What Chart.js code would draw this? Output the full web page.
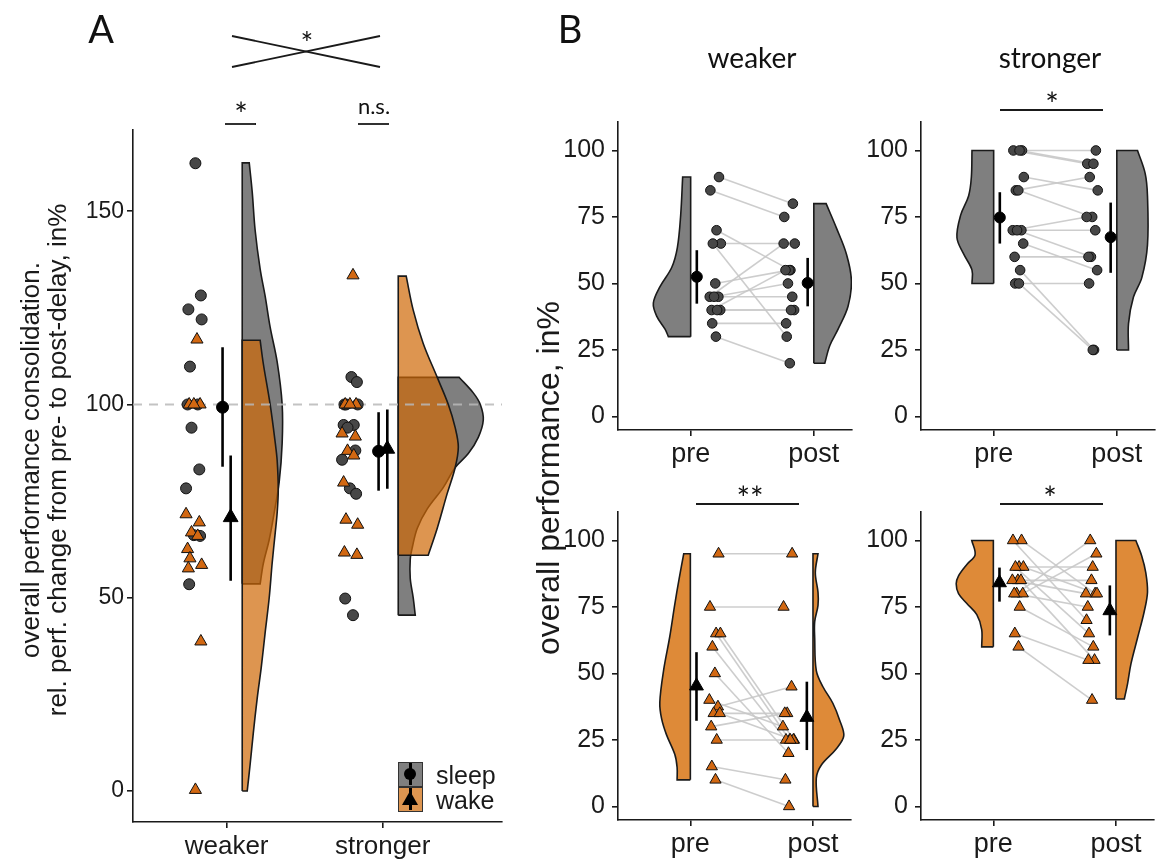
<!DOCTYPE html>
<html>
<head>
<meta charset="utf-8">
<script src="https://cdn.jsdelivr.net/npm/chart.js@4.4.1/dist/chart.umd.min.js"></script>
<style>
  html, body { margin: 0; padding: 0; background: #fff; }
  #page { position: relative; width: 1165px; height: 860px; overflow: hidden; font-family: "Liberation Sans", Arial, sans-serif; color: #1a1a1a; }
  canvas { position: absolute; }
  .note { position: absolute; transform: translate(-50%, -50%); white-space: nowrap; font-family: Lato, "Open Sans", sans-serif; color: #111; line-height: 1; }
  .key { position: absolute; width: 25px; height: 25px; box-sizing: border-box; border: 1.5px solid #333; }
  .key .bar { position: absolute; left: 10px; top: 0; width: 2.5px; height: 22px; background: #000; }
  .key .dot { position: absolute; left: 5px; top: 5px; width: 12px; height: 12px; border-radius: 50%; background: #000; }
  .key .tri { position: absolute; left: 3px; top: 3px; width: 0; height: 0; border-left: 8px solid transparent; border-right: 8px solid transparent; border-bottom: 14px solid #000; }
  .legtxt { position: absolute; font-size: 25px; transform: translateY(-50%); }
  .ytitle { position: absolute; transform: translate(-50%, -50%) rotate(-90deg); white-space: nowrap; text-align: center; }
</style>
</head>
<body>
<div id="page">
  <canvas id="chartA" width="520" height="760" style="left:0;top:100px"></canvas>
  <canvas id="chartWS" width="330" height="370" style="left:530px;top:100px"></canvas>
  <canvas id="chartSS" width="330" height="370" style="left:833px;top:100px"></canvas>
  <canvas id="chartWW" width="330" height="370" style="left:530px;top:490px"></canvas>
  <canvas id="chartSW" width="330" height="370" style="left:833px;top:490px"></canvas>

  <svg width="1165" height="860" style="position:absolute;left:0;top:0;pointer-events:none">
    <g stroke="#1a1a1a" stroke-width="1.8">
      <line x1="232" y1="36" x2="380" y2="67"/>
      <line x1="232" y1="67" x2="380" y2="36"/>
      <line x1="225" y1="124" x2="256" y2="124"/>
      <line x1="358" y1="124" x2="389" y2="124"/>
      <line x1="1000" y1="110" x2="1103" y2="110"/>
      <line x1="696" y1="504" x2="799" y2="504"/>
      <line x1="1000" y1="504" x2="1103" y2="504"/>
    </g>
  </svg>

  <div class="note" style="left:101px;top:28px;font-size:38px">A</div>
  <div class="note" style="left:570px;top:28px;font-size:38px">B</div>
  <div class="note" style="left:307px;top:42px;font-size:30px">*</div>
  <div class="note" style="left:241px;top:114px;font-size:32px">*</div>
  <div class="note" style="left:374px;top:106px;font-size:22px">n.s.</div>
  <div class="note" style="left:752px;top:57px;font-size:28px">weaker</div>
  <div class="note" style="left:1050px;top:57px;font-size:28px">stronger</div>
  <div class="note" style="left:1052px;top:104px;font-size:32px">*</div>
  <div class="note" style="left:750px;top:498px;font-size:32px">**</div>
  <div class="note" style="left:1050px;top:498px;font-size:32px">*</div>

  <div class="ytitle" style="left:44px;top:460px;font-size:26px;line-height:27px">overall performance consolidation.<br>rel. perf. change from pre- to post-delay, in%</div>
  <div class="ytitle" style="left:548px;top:478px;font-size:32px">overall performance, in%</div>

  <div class="key" style="left:398px;top:762px;background:#7f7f7f"><div class="bar"></div><div class="dot"></div></div>
  <div class="key" style="left:398px;top:787px;background:#dd9550"><div class="bar"></div><div class="tri"></div></div>
  <div class="legtxt" style="left:436px;top:775px">sleep</div>
  <div class="legtxt" style="left:436px;top:800px">wake</div>
</div>

<script>
// ---------- panel A: relative change (post / pre, in %) ----------
const groupsA = ['weaker', 'stronger'];
const yTicksA = [0, 50, 100, 150];

const sleepWeaker = [162.4, 128.2, 124.6, 122, 109.8, 100, 100, 94, 83.2, 78.3, 66.2, 66, 53.5];
const wakeWeaker = [116.8, 100, 100, 100, 71.6, 69.5, 66.9, 66, 62.6, 60.2, 58.5, 57.6, 38.7, 0.3];
const sleepStronger = [107.1, 105.8, 100, 100, 100, 94.7, 94.7, 94, 88.1, 85.7, 78.3, 76.9, 49.8, 45.5];
const wakeStronger = [133.4, 100, 100, 100, 92.5, 91.7, 88, 86.8, 79.8, 70.2, 68.9, 61.7, 61.1];

// mean, lower, upper (weaker, stronger)
const sleepStatsA = [[99.3, 83.9, 114.8], [87.9, 77.7, 98.0]];
const wakeStatsA = [[70.8, 54.4, 86.8], [88.5, 78.2, 98.7]];

// half-violin outlines: [value, half width in category units]
const shapeSleepWeaker = [[53.6, 0.115], [58.8, 0.135], [65, 0.173], [72, 0.205], [80, 0.237], [90, 0.256], [100, 0.256], [111, 0.224], [120, 0.179], [128, 0.147], [135, 0.115], [145, 0.083], [155, 0.064], [162.5, 0.045]];
const shapeWakeWeaker = [[0, 0.032], [7, 0.051], [15, 0.071], [24, 0.096], [32, 0.122], [41, 0.147], [50, 0.173], [59, 0.192], [67, 0.212], [72, 0.224], [78, 0.231], [85.5, 0.224], [90, 0.212], [100, 0.179], [110.6, 0.135], [116.6, 0.115]];
const shapeSleepStronger = [[45.5, 0.109], [50, 0.096], [55, 0.077], [60, 0.077], [63, 0.09], [68, 0.122], [73, 0.186], [78.5, 0.288], [83.7, 0.365], [87.3, 0.449], [91.5, 0.513], [96, 0.545], [100, 0.526], [103, 0.481], [107, 0.391]];
const shapeWakeStronger = [[61, 0.192], [68, 0.25], [77, 0.314], [83.7, 0.365], [89, 0.385], [94, 0.365], [100, 0.321], [107, 0.25], [115.8, 0.16], [124.4, 0.096], [133.2, 0.051]];

// ---------- panel B: overall performance pre / post, in % ----------
const phases = ['pre', 'post'];
const yTicksB = [0, 25, 50, 75, 100];

const preWeakerSleep = [90, 85, 70, 65, 65, 50, 45, 45, 45, 40, 40, 40, 35, 30];
const postWeakerSleep = [80, 75, 55, 65, 30, 55, 65, 45, 50, 40, 55, 40, 35, 20];
const preStrongerSleep = [100, 100, 100, 90, 85, 85, 70, 70, 70, 65, 60, 55, 50, 50];
const postStrongerSleep = [100, 95, 95, 85, 90, 75, 75, 70, 60, 55, 60, 25, 50, 25];
const preWeakerWake = [95, 75, 65, 65, 60, 50, 40, 37.5, 35, 35, 30, 25, 15, 10];
const postWeakerWake = [95, 75, 25, 25, 25, 20, 30, 45, 35, 25, 35, 25, 10, 0];
const preStrongerWake = [100, 100, 90, 90, 90, 85, 85, 85, 80, 80, 80, 75, 65, 60];
const postStrongerWake = [80, 70, 90, 80, 65, 85, 80, 55, 100, 95, 75, 60, 55, 40];

// mean, lower, upper (pre, post)
const statsWeakerSleep = [[52.5, 42.4, 62.5], [50.2, 41.4, 59.6]];
const statsStrongerSleep = [[74.8, 65, 84.3], [67.4, 54, 80.4]];
const statsWeakerWake = [[45.3, 32.2, 58], [33.5, 21.2, 46.9]];
const statsStrongerWake = [[84.1, 77, 89.8], [73.6, 64.3, 83.1]];

const shapePreWeakerSleep = [[30, 0.181], [32.8, 0.208], [37.7, 0.276], [42.6, 0.303], [48.8, 0.249], [56, 0.154], [63.5, 0.108], [75.7, 0.081], [90, 0.065]];
const shapePostWeakerSleep = [[20, 0.089], [26.7, 0.13], [32.8, 0.197], [41.4, 0.278], [51.2, 0.305], [61, 0.265], [70.8, 0.184], [80, 0.1]];
const shapePreStrongerSleep = [[50, 0.176], [55, 0.176], [61, 0.243], [67.2, 0.298], [75.7, 0.268], [83, 0.203], [90, 0.181], [100, 0.176]];
const shapePostStrongerSleep = [[25, 0.095], [35, 0.095], [44.9, 0.135], [52.2, 0.203], [64.5, 0.249], [82.9, 0.249], [91.4, 0.23], [100, 0.168]];
const shapePreWeakerWake = [[10, 0.108], [14.7, 0.108], [19.6, 0.127], [27, 0.195], [33.1, 0.235], [39.2, 0.249], [51.5, 0.217], [63.8, 0.168], [76, 0.127], [85.5, 0.092], [95, 0.054]];
const shapePostWeakerWake = [[0, 0.041], [10.6, 0.027], [15.5, 0.067], [21.6, 0.189], [26.5, 0.251], [32.6, 0.216], [38.8, 0.162], [45, 0.081], [51.1, 0.027], [63.3, 0.014], [69.5, 0.014], [75.6, 0.041], [80.5, 0.041], [87.9, 0.019], [95, 0.041]];
const shapePreStrongerWake = [[60, 0.095], [66.5, 0.095], [72.1, 0.135], [76.3, 0.216], [80, 0.284], [83.7, 0.303], [86.7, 0.284], [91, 0.216], [94.6, 0.149], [100, 0.176]];
const shapePostStrongerWake = [[40.4, 0.068], [46.3, 0.095], [53.6, 0.122], [63.4, 0.176], [73.2, 0.23], [80.5, 0.257], [87.9, 0.243], [94, 0.211], [100, 0.162]];

// horizontal jitter of the raw points (category units)
const jitterA = [0.01, 0.045, -0.035, 0.05, -0.025, -0.04, 0.025, -0.015, 0.035, -0.05, 0.0, 0.04, -0.03, 0.02];
const jitterB = [0.03, -0.04, 0.01, 0.045, -0.02, 0.0, -0.045, 0.025, -0.01, 0.04, -0.03, 0.015, -0.025, 0.005];

// ---------- styling ----------
const INK = '#1a1a1a';
const FONT = "'Liberation Sans', Arial, sans-serif";
const greyFill = 'rgb(127,127,127)';
const orangeFillA = 'rgba(206,104,5,0.7)';
const orangeFillB = 'rgb(222,138,56)';
const circleFill = '#474747';
const triangleFill = 'rgb(210,104,18)';

// closed half-violin outline, corners doubled so the curve stays sharp there
function violin(base, dir, shape) {
  const first = shape[0], last = shape[shape.length - 1];
  const pts = [{x: base, y: first[0]}, {x: base, y: first[0]}, {x: base + dir * first[1], y: first[0]}];
  shape.forEach(([v, w]) => pts.push({x: base + dir * w, y: v}));
  pts.push({x: base + dir * last[1], y: last[0]});
  pts.push({x: base, y: last[0]}, {x: base, y: last[0]}, {x: base, y: first[0]});
  return pts;
}

function violinSet(data, color, order) {
  return {type: 'line', data, fill: 'shape', backgroundColor: color, borderColor: INK,
    borderWidth: 1.6, pointRadius: 0, tension: 0.35, order};
}

function pointSet(values, center, jit, style, order) {
  const tri = style === 'triangle';
  return {type: 'scatter', data: values.map((v, i) => ({x: center + jit[i % jit.length], y: v})),
    pointStyle: style, pointRadius: tri ? 7 : 5.5, backgroundColor: tri ? triangleFill : circleFill,
    borderColor: '#111', borderWidth: 1, order};
}

function statSets(x, stat, style, size, order) {
  return [
    {type: 'line', data: [{x, y: stat[1]}, {x, y: stat[2]}], borderColor: '#000', borderWidth: 2.6, pointRadius: 0, order: order + 1},
    {type: 'scatter', data: [{x, y: stat[0]}], pointStyle: style, pointRadius: size,
      backgroundColor: '#000', borderColor: '#000', borderWidth: 1, order}
  ];
}

function axis(cfg) {
  return {
    type: 'linear', min: cfg.min, max: cfg.max,
    border: {display: true, color: INK, width: 1.6},
    grid: {display: true, drawOnChartArea: false, drawTicks: true, tickLength: 6, color: INK, lineWidth: 1.6},
    ticks: {color: INK, font: {family: FONT, size: cfg.size}, padding: cfg.pad, maxRotation: 0, autoSkip: false,
      callback: cfg.labels ? (v => cfg.labels[Math.round(v) - 1]) : (v => v)},
    afterBuildTicks: s => { s.ticks = cfg.ticks.map(v => ({value: v})); }
  };
}

// canvas box and plot box are page coordinates
function draw(id, box, plot, datasets, xAxis, yAxis) {
  xAxis.afterFit = s => { s.height = box.top + box.height - plot.b; };
  yAxis.afterFit = s => { s.width = plot.l - box.left; };
  new Chart(document.getElementById(id), {
    type: 'line',
    data: {datasets},
    options: {
      responsive: false, animation: false, events: [],
      layout: {padding: {top: plot.t - box.top, right: box.left + box.width - plot.r, left: 0, bottom: 0}},
      plugins: {legend: {display: false}, tooltip: {enabled: false}},
      scales: {x: xAxis, y: yAxis}
    }
  });
}

// ---------- panel A ----------
const dsA = [
  violinSet(violin(1.1, 1, shapeSleepWeaker), greyFill, 40),
  violinSet(violin(1.1, 1, shapeWakeWeaker), orangeFillA, 39),
  violinSet(violin(2.1, 1, shapeSleepStronger), greyFill, 38),
  violinSet(violin(2.1, 1, shapeWakeStronger), orangeFillA, 37),
  {type: 'line', data: [{x: 0.4, y: 100}, {x: 2.77, y: 100}], borderColor: 'rgba(185,185,185,0.85)',
    borderWidth: 2, borderDash: [9, 7], pointRadius: 0, order: 30},
  pointSet(sleepWeaker, 1 - 0.21, jitterA, 'circle', 21),
  pointSet(wakeWeaker, 1 - 0.21, jitterA.slice().reverse(), 'triangle', 20),
  pointSet(sleepStronger, 2 - 0.21, jitterA, 'circle', 23),
  pointSet(wakeStronger, 2 - 0.21, jitterA.slice().reverse(), 'triangle', 22),
  ...statSets(1 - 0.026, sleepStatsA[0], 'circle', 6, 4),
  ...statSets(1 + 0.026, wakeStatsA[0], 'triangle', 8.5, 2),
  ...statSets(2 - 0.026, sleepStatsA[1], 'circle', 6, 4),
  ...statSets(2 + 0.03, wakeStatsA[1], 'triangle', 8.5, 2)
];

draw('chartA', {left: 0, top: 100, width: 520, height: 760}, {l: 133, t: 130, r: 502, b: 822}, dsA,
  axis({min: 0.4, max: 2.765, ticks: [1, 2], labels: groupsA, size: 26, pad: 3}),
  axis({min: -8, max: 171, ticks: yTicksA, size: 23, pad: 3}));

// ---------- panel B ----------
function panelB(id, box, plot, pre, post, stats, preShape, postShape, kind) {
  const sleep = kind === 'sleep';
  const fill = sleep ? greyFill : orangeFillB;
  const style = sleep ? 'circle' : 'triangle';
  const ds = [
    violinSet(violin(1, -1, preShape), fill, 40),
    violinSet(violin(2, 1, postShape), fill, 39)
  ];
  pre.forEach((v, i) => ds.push({type: 'line', data: [{x: 1.2 + jitterB[i], y: v}, {x: 1.8 + jitterB[i], y: post[i]}],
    borderColor: 'rgba(200,200,200,0.9)', borderWidth: 1.6, pointRadius: 0, order: 30}));
  const pPre = pointSet(pre, 1.2, jitterB, style, 20);
  const pPost = pointSet(post, 1.8, jitterB, style, 21);
  [pPre, pPost].forEach(d => { d.pointRadius = sleep ? 4.8 : 6.5; });
  ds.push(pPre, pPost);
  ds.push(...statSets(1.05, stats[0], style, sleep ? 5.5 : 8, 4));
  ds.push(...statSets(1.95, stats[1], style, sleep ? 5.5 : 8, 2));
  draw(id, box, plot, ds,
    axis({min: 0.41, max: 2.31, ticks: [1, 2], labels: phases, size: 27, pad: 2}),
    axis({min: -5.1, max: 110.7, ticks: yTicksB, size: 25, pad: 7}));
}

panelB('chartWS', {left: 530, top: 100, width: 330, height: 370}, {l: 618, t: 115, r: 852, b: 430},
  preWeakerSleep, postWeakerSleep, statsWeakerSleep, shapePreWeakerSleep, shapePostWeakerSleep, 'sleep');
panelB('chartSS', {left: 833, top: 100, width: 330, height: 370}, {l: 921, t: 115, r: 1155, b: 430},
  preStrongerSleep, postStrongerSleep, statsStrongerSleep, shapePreStrongerSleep, shapePostStrongerSleep, 'sleep');
panelB('chartWW', {left: 530, top: 490, width: 330, height: 370}, {l: 618, t: 505, r: 852, b: 820},
  preWeakerWake, postWeakerWake, statsWeakerWake, shapePreWeakerWake, shapePostWeakerWake, 'wake');
panelB('chartSW', {left: 833, top: 490, width: 330, height: 370}, {l: 921, t: 505, r: 1155, b: 820},
  preStrongerWake, postStrongerWake, statsStrongerWake, shapePreStrongerWake, shapePostStrongerWake, 'wake');
</script>
</body>
</html>
